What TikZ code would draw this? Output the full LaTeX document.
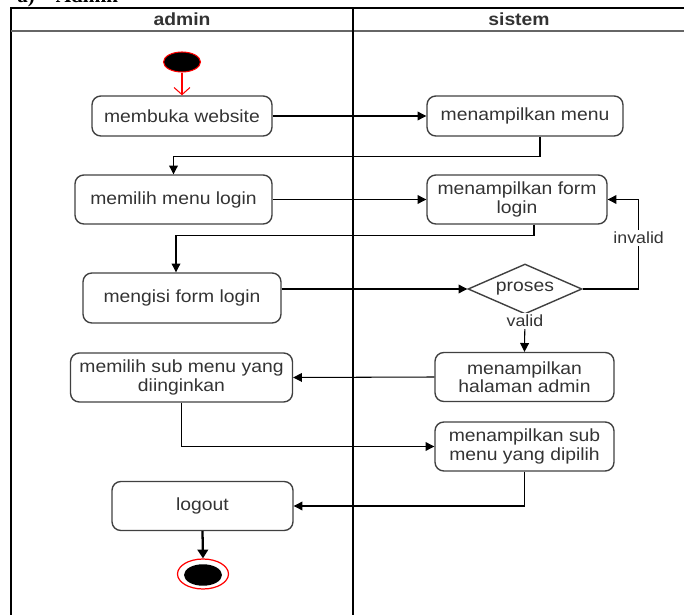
\documentclass[tikz,border=0pt]{standalone}
\usepackage{fontspec}
\setmainfont[FakeStretch=1.1]{Liberation Sans}
\newfontfamily\serifft{Liberation Serif}
\usetikzlibrary{arrows.meta,shapes.geometric}
\begin{document}
\begin{tikzpicture}[x=0.02cm,y=-0.02cm,
  act/.style={draw=black!75, line width=0.8pt, rounded corners=5pt, align=center,
    font=\fontsize{10}{9}\selectfont, text=black!80, inner sep=0pt},
  flow/.style={draw=black, line width=0.6pt, -{Triangle[length=5pt,width=5pt]}},
  lbl/.style={fill=white, inner sep=1pt, font=\fontsize{9.2}{11}\selectfont, text=black!80},
  lane/.style={draw=black, line width=0.9pt},
  hdr/.style={font=\fontsize{10}{12}\selectfont\bfseries, text=black!80}]
\useasboundingbox (0,0) rectangle (684,615);
% caption (cut off at the top, as in the reference)
\node[anchor=base west, font=\serifft\fontsize{12}{14}\selectfont\bfseries, inner sep=0pt] (cap) at (17,3) {a)\quad Admin};
% swimlanes
\draw[lane] (11,615) -- (11,8) -- (684,8);
\draw[draw=black!60, line width=0.9pt] (11,31) -- (684,31);
\draw[lane] (353,8) -- (353,615);
\node[hdr] (ha) at (182,19) {admin};
\node[hdr] (hs) at (519,19) {sistem};
% nodes
\node[ellipse, draw=red, fill=black, line width=0.6pt, minimum width=0.74cm, minimum height=0.4cm, inner sep=0pt] (start) at (182,62) {};
\node[act, minimum width=3.6cm, minimum height=0.8cm] (buka) at (182,116) {membuka website};
\node[act, minimum width=3.92cm, minimum height=0.8cm] (menu) at (525,116) {menampilkan menu};
\node[act, minimum width=3.94cm, minimum height=0.98cm] (login) at (173.5,199.5) {memilih menu login};
\node[act, minimum width=3.6cm, minimum height=0.98cm] (form) at (517,199.5) {menampilkan form\\login};
\node[act, minimum width=3.96cm, minimum height=1.0cm] (isi) at (182,298) {mengisi form login};
\node[diamond, draw=black!75, line width=0.8pt, aspect=2.3, minimum width=2.28cm, minimum height=1.0cm, inner sep=0pt,
  font=\fontsize{10}{9}\selectfont, text=black!80] (dec) at (525,289) {proses};
\node[act, minimum width=3.58cm, minimum height=0.98cm] (hal) at (524.5,377) {menampilkan\\halaman admin};
\node[act, minimum width=4.44cm, minimum height=0.98cm] (sub) at (181.5,377.5) {memilih sub menu yang\\diinginkan};
\node[act, minimum width=3.58cm, minimum height=0.98cm] (msub) at (524.5,446.5) {menampilkan sub\\menu yang dipilih};
\node[act, minimum width=3.62cm, minimum height=0.98cm] (logout) at (202.5,506) {logout};
\node[ellipse, draw=red, line width=0.7pt, minimum width=1.02cm, minimum height=0.6cm, inner sep=0pt] (endo) at (203,574) {};
\node[ellipse, fill=black, minimum width=0.76cm, minimum height=0.43cm, inner sep=0pt] (endi) at (203,575) {};
% connectors
\draw[draw=red, line width=0.6pt, -{Straight Barb[length=4pt,width=9pt]}] (start) -- (buka);
\draw[flow] (buka) -- (menu);
\draw[flow] ([xshift=0.3cm]menu.south) -- ++(0,20) -| (login.north);
\draw[flow] (login) -- (form);
\draw[flow] ([xshift=0.34cm]form.south) -- ++(0,11) -| ([xshift=-0.12cm]isi.north);
\draw[flow] (dec.west -| isi.east) -- (dec.west);
\draw[flow] (dec.east) -- ++(56,0) |- node[lbl, pos=0.285] {invalid} (form.east);
\draw[flow] (dec.south) -- node[lbl, pos=0.17] {valid} (hal.north);
\draw[flow] (hal.west) -- (sub.east);
\draw[flow] (sub.south) |- (msub.west);
\draw[flow] (msub.south) |- (logout.east);
\draw[draw=black, line width=1.3pt, -{Triangle[length=5pt,width=6pt]}] (logout.south) -- (endo.north);
\end{tikzpicture}
\end{document}
